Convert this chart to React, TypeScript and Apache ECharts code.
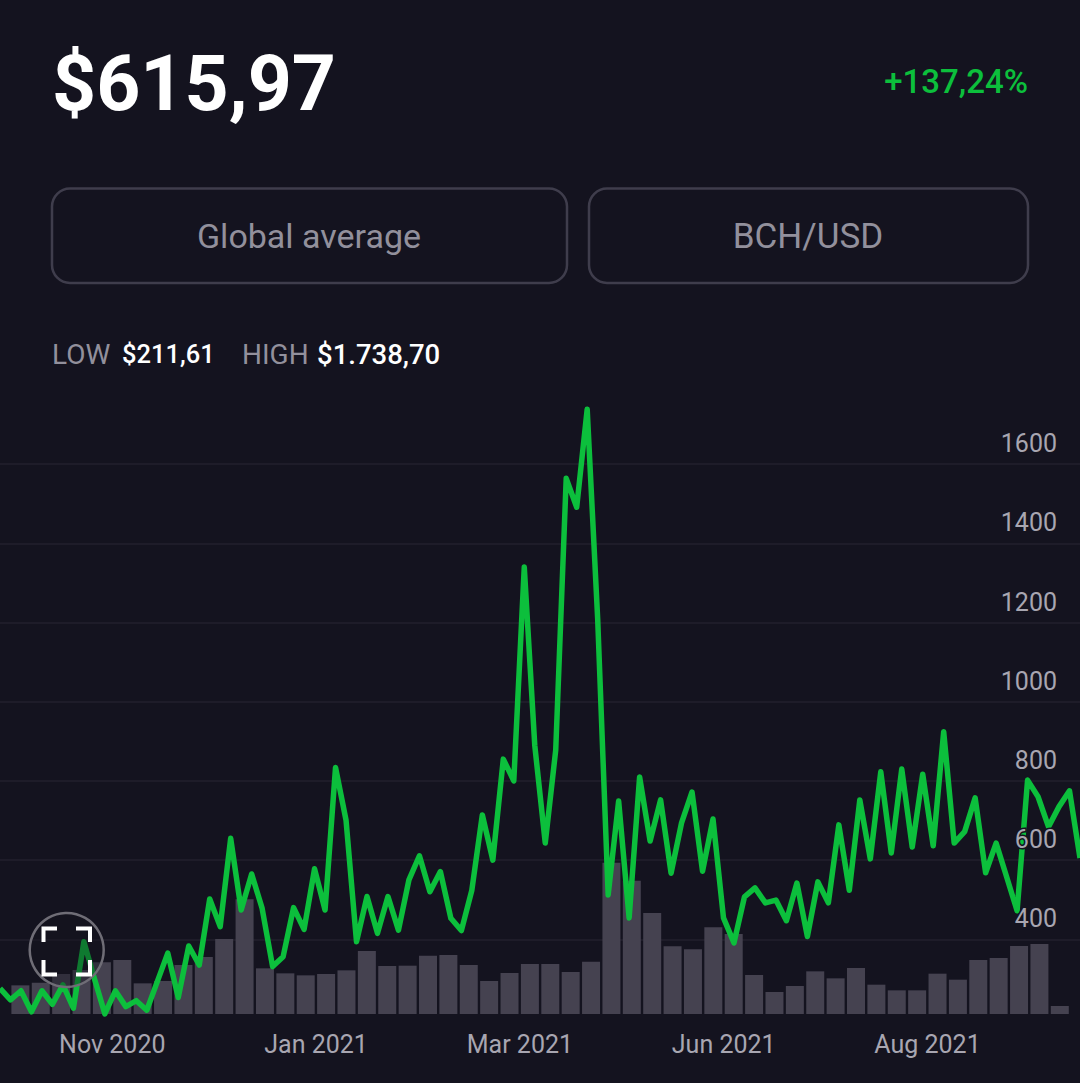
import React, { useEffect, useRef } from "react";
import * as echarts from "echarts";

const FONT = "Roboto";
const BG = "#14131f";
const GREEN = "#0cbf3c";
const GREY = "#a8a6b1";
const BAR = "#454250";
const GRID = "#22212e";

const priceValues = [
  276, 247, 270, 217, 270, 236, 285, 226, 394, 301, 211.61, 270, 230, 245, 221, 293, 365, 253, 383, 335,
  502, 432, 655, 474, 565, 478, 331, 356, 480, 425, 578, 474, 834, 701, 394, 508, 415, 508, 423, 550,
  611, 520, 571, 453, 422, 524, 714, 600, 855, 800, 1340, 890, 643, 878, 1564, 1491, 1738.7, 1210, 512, 749,
  454, 810, 648, 752, 567, 694, 772, 572, 704, 454, 391, 507, 530, 492, 499, 447, 542, 407, 545, 492,
  689, 524, 752, 603, 823, 618, 830, 633, 817, 636, 924, 643, 672, 757, 568, 643, 558, 472, 802, 760,
  684, 735, 775, 605,
];
const pricePoints = priceValues.map((_, i) => String(i));

const volumeValues = [
  86, 94, 120, 132, 155, 162, 92, 99, 147, 171, 225, 344, 137, 122, 116, 120, 131, 189,
  144, 145, 175, 177, 147, 99, 123, 150, 150, 126, 157, 454, 400, 303, 203, 194, 260,
  240, 117, 66, 84, 128, 107, 138, 88, 71, 71, 121, 103, 162, 168, 204, 210, 24,
];
const monthLabels: Record<number, string> = {
  5: "Nov 2020",
  15: "Jan 2021",
  25: "Mar 2021",
  35: "Jun 2021",
  45: "Aug 2021",
};
const volumeCategories = volumeValues.map((_, i) => monthLabels[i] ?? "");

const headlinePrice = "$615,97";
const changeText = "+137,24%";
const sourceText = "Global average";
const pairText = "BCH/USD";
const lowValue = "$211,61";
const highValue = "$1.738,70";

const txt = (x: number, y: number, text: string, size: number, fill: string, weight: any = 400, align: any = "left") => ({
  type: "text",
  x,
  y,
  z: 20,
  style: { text, fill, font: `${weight} ${size}px ${FONT}`, textAlign: align, textVerticalAlign: "middle" },
});

const corner = (pts: number[][]) => ({
  type: "polyline",
  z: 21,
  shape: { points: pts },
  style: { stroke: "#ffffff", lineWidth: 4, fill: "none", lineCap: "butt", lineJoin: "miter" },
});

export default function App() {
  const ref = useRef<HTMLDivElement>(null);
  useEffect(() => {
    document.body.style.margin = "0";
    document.body.style.background = BG;
    const chart = echarts.init(ref.current!, undefined, { renderer: "svg" });
    chart.setOption({
      animation: false,
      backgroundColor: BG,
      textStyle: { fontFamily: FONT },
      grid: [
        { left: 10.2, width: 1059.8, top: 680.67, height: 333.33, containLabel: false },
        { left: 0, width: 1080, top: 384.9, height: 633.6, containLabel: false },
      ],
      xAxis: [
        {
          type: "category",
          gridIndex: 0,
          data: volumeCategories,
          boundaryGap: true,
          axisLine: { show: false },
          axisTick: { show: false },
          splitLine: { show: false },
          axisLabel: {
            show: true,
            interval: (i: number) => monthLabels[i] !== undefined,
            color: GREY,
            fontFamily: FONT,
            fontSize: 25,
            margin: 18,
            padding: [0, 20, 0, 0],
          },
        },
        {
          type: "category",
          gridIndex: 1,
          data: pricePoints,
          boundaryGap: false,
          show: false,
        },
      ],
      yAxis: [
        { type: "value", gridIndex: 0, min: 0, max: 1000, show: false },
        {
          type: "value",
          gridIndex: 1,
          min: 200,
          max: 1800,
          interval: 200,
          position: "left",
          z: 0,
          axisLine: { show: false },
          axisTick: { show: false },
          axisLabel: { show: false },
          splitLine: { show: true, showMinLine: false, showMaxLine: false, lineStyle: { color: GRID, width: 1.5 } },
        },
        {
          type: "value",
          gridIndex: 1,
          min: 200,
          max: 1800,
          interval: 200,
          position: "right",
          z: 10,
          axisLine: { show: false },
          axisTick: { show: false },
          splitLine: { show: false },
          axisLabel: {
            inside: true,
            margin: 23,
            color: GREY,
            fontFamily: FONT,
            fontSize: 25,
            showMinLabel: false,
            showMaxLabel: false,
            formatter: (v: number) => String(v),
            verticalAlign: "bottom",
            lineHeight: 41,
            textBorderColor: BG,
            textBorderWidth: 3,
          },
        },
      ],
      series: [
        {
          type: "bar",
          name: "Volume",
          xAxisIndex: 0,
          yAxisIndex: 0,
          data: volumeValues,
          barWidth: 18,
          itemStyle: { color: BAR },
          z: 2,
          silent: true,
        },
        {
          type: "line",
          name: "Price",
          xAxisIndex: 1,
          yAxisIndex: 1,
          data: priceValues,
          showSymbol: false,
          symbol: "none",
          lineStyle: { color: GREEN, width: 5.5, join: "round" },
          z: 3,
          silent: true,
          clip: false,
        },
      ],
      graphic: [
        txt(52, 84, headlinePrice, 77, "#ffffff", 700),
        txt(1028, 81, changeText, 33, GREEN, 500, "right"),
        {
          type: "rect",
          z: 20,
          shape: { x: 52, y: 188.5, width: 515, height: 94.5, r: 18 },
          style: { fill: "none", stroke: "#3f3d4c", lineWidth: 2.5 },
        },
        {
          type: "rect",
          z: 20,
          shape: { x: 589, y: 188.5, width: 439, height: 94.5, r: 18 },
          style: { fill: "none", stroke: "#3f3d4c", lineWidth: 2.5 },
        },
        txt(309, 236, sourceText, 34, "#92909c", 400, "center"),
        txt(808, 236, pairText, 35, "#92909c", 400, "center"),
        txt(52, 354, "LOW", 28, "#92909c"),
        txt(122, 354, lowValue, 25.5, "#ffffff", 500),
        txt(242, 354, "HIGH", 28, "#92909c"),
        txt(317, 354, highValue, 27.5, "#ffffff", 500),
        {
          type: "circle",
          z: 20,
          shape: { cx: 66.7, cy: 950, r: 37 },
          style: { fill: "rgba(20,19,31,0.4)", stroke: "#6f6d76", lineWidth: 2.5 },
        },
        corner([[43.5, 942], [43.5, 928.5], [57, 928.5]]),
        corner([[76, 928.5], [90, 928.5], [90, 942]]),
        corner([[43.5, 960], [43.5, 974.5], [57, 974.5]]),
        corner([[76, 974.5], [90, 974.5], [90, 960]]),
      ],
    });
    return () => chart.dispose();
  }, []);
  return <div ref={ref} style={{ width: 1080, height: 1083, position: "absolute", left: 0, top: 0 }} />;
}
